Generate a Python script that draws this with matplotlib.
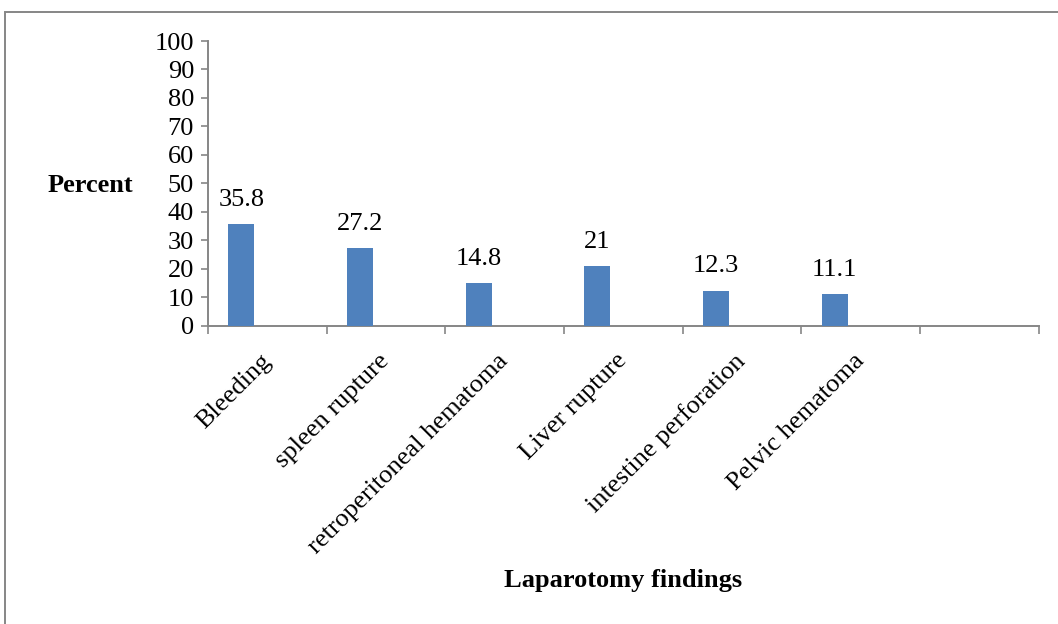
import matplotlib
matplotlib.use("Agg")
import matplotlib.pyplot as plt
from matplotlib.patches import Rectangle
import numpy as np

# Laparotomy findings (percent of patients)
categories = ["Bleeding", "spleen rupture", "retroperitoneal hematoma",
              "Liver rupture", "intestine perforation", "Pelvic hematoma"]
percent = [35.8, 27.2, 14.8, 21, 12.3, 11.1]
value_labels = ["35.8", "27.2", "14.8", "21", "12.3", "11.1"]
n_slots = 7  # one trailing empty category slot on the axis
y_ticks = list(range(0, 101, 10))

plt.rcParams["font.family"] = ["Liberation Serif", "DejaVu Serif"]
GRAY = "#868686"
BLUE = "#4F81BD"
FS = 19

W, H = 1058, 624
fig = plt.figure(figsize=(W / 100, H / 100), dpi=100)
fig.patch.set_facecolor("white")

# chart-area border (runs off the right and bottom edges)
fig.patches.append(Rectangle((5 / W, -0.2), 1.5, 1.2 - 12 / H,
                             transform=fig.transFigure, fill=False,
                             edgecolor=GRAY, linewidth=1.4))

left, right = 208 / W, 1038.7 / W
bottom, top = 1 - 325.5 / H, 1 - 41 / H
ax = fig.add_axes([left, bottom, right - left, top - bottom])

bar_w = 0.219
x = np.arange(len(categories))
bx = x - bar_w
ax.bar(bx, percent, width=bar_w, color=BLUE, edgecolor="none", zorder=3)

for xi, v, lab in zip(bx, percent, value_labels):
    ax.annotate(lab, (xi, v), xytext=(0, 13), textcoords="offset points",
                ha="center", va="baseline", fontsize=FS)

ax.set_xlim(-0.5, n_slots - 0.5)
ax.set_ylim(0, 100)
ax.set_yticks(y_ticks)
ax.set_yticklabels([str(t) for t in y_ticks], fontsize=FS)

ax.set_xticks(x)
ax.set_xticklabels(categories, fontsize=FS, rotation=45, ha="right",
                   va="center", rotation_mode="anchor")
ax.set_xticks(np.arange(-0.5, n_slots, 1.0), minor=True)
ax.tick_params(axis="x", which="major", length=0, pad=23)
ax.tick_params(axis="x", which="minor", length=6, width=1.2, color=GRAY,
               direction="out")
ax.tick_params(axis="y", length=5, width=1.2, color=GRAY, pad=5,
               direction="out")

for s in ("top", "right"):
    ax.spines[s].set_visible(False)
for s in ("left", "bottom"):
    ax.spines[s].set_color(GRAY)
    ax.spines[s].set_linewidth(1.4)

fig.text(90 / W, 1 - 185 / H, "Percent", ha="center", va="center",
         fontsize=FS, fontweight="bold")
fig.text(623 / W, 1 - 581 / H, "Laparotomy findings", ha="center",
         va="center", fontsize=FS, fontweight="bold")

fig.savefig("out.png", dpi=100, facecolor="white")
